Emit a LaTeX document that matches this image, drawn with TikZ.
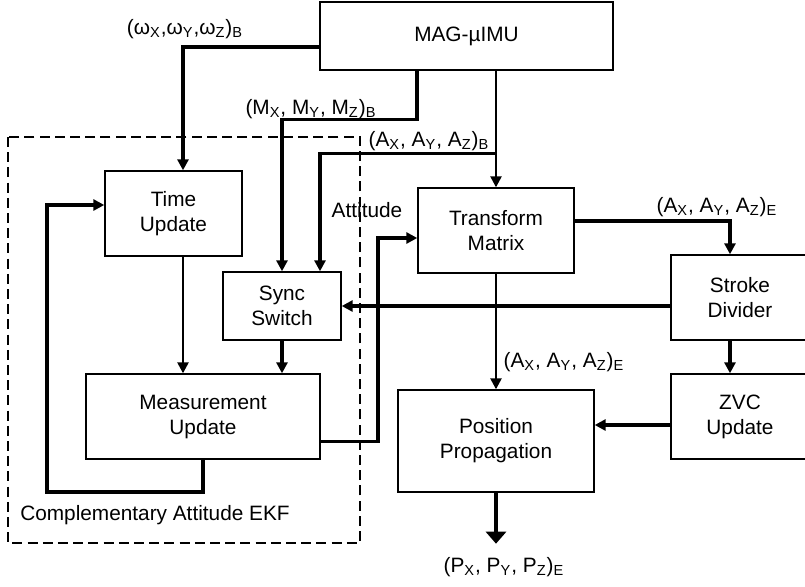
\documentclass[tikz,border=0pt]{standalone}
\usepackage{fontspec}
\setmainfont{Liberation Sans}
\usetikzlibrary{arrows.meta,calc}

\tikzset{
  block/.style={draw,line width=0.7pt,inner sep=0pt,align=center,minimum height=42.5pt},
  flow/.style={line width=1.2pt,-{Triangle[length=5.5pt,width=5.5pt]}},
  bus/.style={flow,line width=1.6pt},
  ekfbox/.style={line width=1pt,dash pattern=on 5pt off 2.6pt},
}

\begin{document}
\begin{tikzpicture}[x=0.5pt,y=-0.5pt,every node/.style={font=\fontsize{10.4}{12.5}\selectfont}]
  \useasboundingbox (0,0) rectangle (805,586);

  % blocks
  \node[block,minimum width=146.5pt,minimum height=34pt] (mag) at (466.5,36) {MAG-µIMU};
  \node[block,minimum width=68.5pt] (tu) at (173.5,213.5) {Time\\Update};
  \node[block,minimum width=78pt] (tm) at (496,230.5) {Transform\\Matrix};
  \node[block,minimum width=59pt,minimum height=34pt] (sync) at (282,306) {Sync\\Switch};
  \node[block,minimum width=117pt] (mu) at (203,416.5) {Measurement\\Update};
  \node[block,minimum width=69pt] (sd) at (740,297.5) {Stroke\\Divider};
  \node[block,minimum width=69pt] (zvc) at (740,416.5) {ZVC\\Update};
  \node[block,minimum width=98pt,minimum height=51pt] (pp) at (496,441) {Position\\Propagation};

  % filter frame
  \draw[ekfbox] (8,137) rectangle (360,543);
  \node (ekf) at (155,515) {Complementary Attitude EKF};

  % signal labels
  \node (lw) at (185,29) {(ω\textsubscript{X},ω\textsubscript{Y},ω\textsubscript{Z})\textsubscript{B}};
  \node (lm) at (311,109) {(M\textsubscript{X}, M\textsubscript{Y}, M\textsubscript{Z})\textsubscript{B}};
  \node (lab) at (429,141) {(A\textsubscript{X}, A\textsubscript{Y}, A\textsubscript{Z})\textsubscript{B}};
  \node (latt) at (367,210) {Attitude};
  \node (lae) at (717,207) {(A\textsubscript{X}, A\textsubscript{Y}, A\textsubscript{Z})\textsubscript{E}};
  \node (lae2) at (564,362) {(A\textsubscript{X}, A\textsubscript{Y}, A\textsubscript{Z})\textsubscript{E}};
  \node (lpe) at (504,567) {(P\textsubscript{X}, P\textsubscript{Y}, P\textsubscript{Z})\textsubscript{E}};

  % sensor outputs
  \draw[bus] ($(mag.west)+(0,11)$) -| ($(tu.north)+(9.5,0)$);
  \draw[bus] ($(mag.south)+(-49.5,0)$) |- ($(sync.north)+(0,-152)$) -- (sync.north);
  \draw[flow] (mag.south -| tm.north) -- (tm.north);
  \draw[bus] ($(tm.north)+(0,-34)$) -| ($(sync.north)+(38,0)$);

  % attitude filter
  \draw[flow] ($(tu.south)+(9.5,0)$) coordinate (t) -- (t |- mu.north);
  \draw[bus] (sync.south) -- (sync.south |- mu.north);
  \coordinate (fb) at (47,492);
  \draw[bus] (mu.south) |- (fb) |- ($(tu.west)+(0,-8.5)$);
  \coordinate (att) at (378,238);
  \draw[bus] ($(mu.east)+(0,25)$) -| (att) -- (att -| tm.west);

  % navigation side
  \draw[bus] ($(tm.east)+(0,-9.5)$) -| ($(sd.north)+(-10,0)$);
  \draw[bus] ($(sd.south)+(-10,0)$) -- ($(zvc.north)+(-10,0)$);
  \draw[bus] (sync.east -| sd.west) -- (sync.east);
  \draw[flow] (tm.south) -- (pp.north);
  \draw[bus] ($(zvc.west)+(0,8.5)$) coordinate (z) -- (z -| pp.east);
  \draw[line width=1.6pt,-{Triangle[length=6pt,width=10pt]}] (pp.south) -- ($(pp.south)+(0,51)$);
\end{tikzpicture}
\end{document}
